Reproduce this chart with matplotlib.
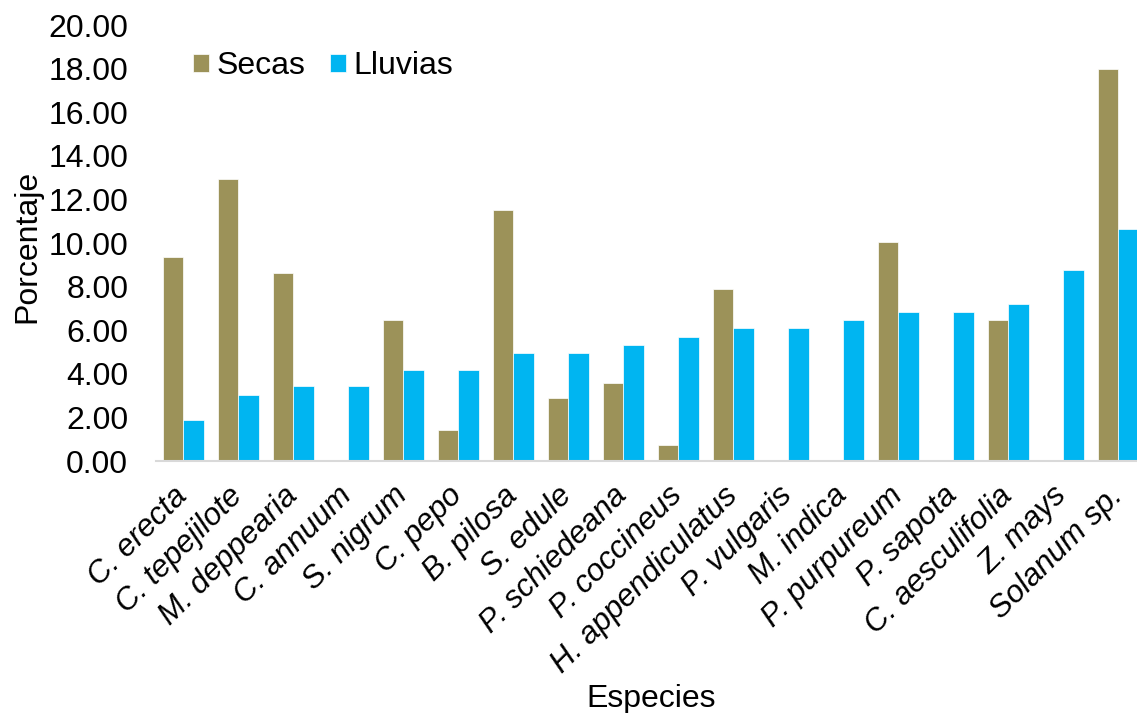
import matplotlib
matplotlib.use("Agg")
import matplotlib.pyplot as plt
import matplotlib.transforms as mtransforms
import numpy as np

plt.rcParams['font.family'] = ['Liberation Sans', 'DejaVu Sans']

especies = ["C. erecta", "C. tepejilote", "M. deppearia", "C. annuum", "S. nigrum",
            "C. pepo", "B. pilosa", "S. edule", "P. schiedeana", "P. coccineus",
            "H. appendiculatus", "P. vulgaris", "M. indica", "P. purpureum",
            "P. sapota", "C. aesculifolia", "Z. mays", "Solanum sp."]
secas = [9.35, 12.95, 8.63, 0.00, 6.47, 1.44, 11.51, 2.88, 3.60, 0.72,
         7.91, 0.00, 0.00, 10.07, 0.00, 6.47, 0.00, 17.99]
lluvias = [1.90, 3.04, 3.42, 3.42, 4.18, 4.18, 4.94, 4.94, 5.32, 5.70,
           6.08, 6.08, 6.46, 6.84, 6.84, 7.22, 8.75, 10.65]
yticks = [0, 2, 4, 6, 8, 10, 12, 14, 16, 18, 20]

col_secas = "#9C9259"
col_lluvias = "#00B5F1"
fs = 23

fig = plt.figure(figsize=(11.37, 7.13), dpi=100)
ax = fig.add_axes([0.1372, 0.3534, 0.8707, 0.6115])

x = np.arange(len(especies))
w = 0.364
ax.bar(x - w / 2, secas, width=w, color=col_secas, label="Secas",
       edgecolor="white", linewidth=0.5)
ax.bar(x + w / 2, lluvias, width=w, color=col_lluvias, label="Lluvias",
       edgecolor="white", linewidth=0.5)

ax.set_xlim(-0.5, len(especies) - 0.5)
ax.set_ylim(0, 20)
ax.set_yticks(yticks)
ax.set_yticklabels([f"{v:.2f}" for v in yticks], fontsize=fs)
ax.tick_params(axis='y', length=0, pad=20)
ax.tick_params(axis='x', length=0, pad=0)

ax.set_xticks(x)
ax.set_xticklabels(especies, rotation=45, ha='right', va='baseline',
                   rotation_mode='anchor', fontsize=22.5, style='italic')
shift = mtransforms.ScaledTranslation(0.05, -0.36, fig.dpi_scale_trans)
for lab in ax.get_xticklabels():
    lab.set_transform(lab.get_transform() + shift)

for s in ['top', 'right', 'left']:
    ax.spines[s].set_visible(False)
ax.spines['bottom'].set_color("#D9D9D9")
ax.spines['bottom'].set_linewidth(1.5)

fig.text(27 / 1137, 1 - 246 / 713, "Porcentaje", rotation=90,
         ha='center', va='center', fontsize=fs)
fig.text(651 / 1137, 6 / 713, "Especies", ha='center', va='baseline',
         fontsize=fs)

ax.legend(loc='center left', bbox_to_anchor=(0.0374, 0.905), ncol=2,
          frameon=False, fontsize=fs, borderpad=0, borderaxespad=0,
          handlelength=0.5, handleheight=0.5, handletextpad=0.25,
          columnspacing=0.75)

fig.savefig("out.png", dpi=100)
